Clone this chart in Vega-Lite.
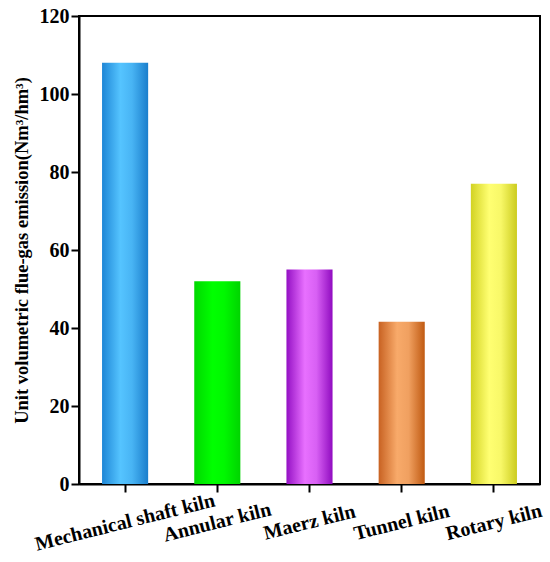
{
  "$schema": "https://vega.github.io/schema/vega-lite/v6.json",
  "width": 461,
  "height": 468,
  "autosize": {"type": "none"},
  "padding": {"left": 79, "top": 16, "right": 10, "bottom": 78},
  "background": "white",
  "config": {
    "view": {"stroke": "black", "strokeWidth": 2},
    "font": "Liberation Serif",
    "axis": {
      "domainColor": "black",
      "domainWidth": 2,
      "tickColor": "black",
      "tickWidth": 2,
      "tickSize": 8,
      "grid": false,
      "labelFont": "Liberation Serif",
      "labelFontWeight": "bold",
      "labelColor": "black",
      "titleFont": "Liberation Serif",
      "titleFontWeight": "bold",
      "titleColor": "black"
    }
  },
  "data": {
    "values": [
      {"kiln": "Mechanical shaft kiln", "emission": 108},
      {"kiln": "Annular kiln", "emission": 52},
      {"kiln": "Maerz kiln", "emission": 55},
      {"kiln": "Tunnel kiln", "emission": 41.6},
      {"kiln": "Rotary kiln", "emission": 77}
    ]
  },
  "encoding": {
    "x": {
      "field": "kiln",
      "type": "nominal",
      "title": null,
      "scale": {
        "domain": ["Mechanical shaft kiln", "Annular kiln", "Maerz kiln", "Tunnel kiln", "Rotary kiln"],
        "paddingInner": 0.5,
        "paddingOuter": 0.25
      },
      "axis": {
        "labelAngle": -14,
        "labelAlign": "center",
        "labelBaseline": "middle",
        "labelPadding": 30,
        "labelFontSize": 20,
        "labelLimit": 300
      }
    },
    "y": {
      "field": "emission",
      "type": "quantitative",
      "title": "Unit volumetric flue-gas emission(Nm³/hm³)",
      "scale": {"domain": [0, 120], "nice": false},
      "axis": {
        "values": [0, 20, 40, 60, 80, 100, 120],
        "labelFontSize": 20,
        "labelPadding": 2,
        "titleFontSize": 18.5,
        "titlePadding": 8
      }
    }
  },
  "layer": [
    {
      "transform": [{"filter": "datum.kiln === 'Mechanical shaft kiln'"}],
      "mark": {"type": "bar", "color": {"gradient": "linear", "x1": 0, "x2": 1, "y1": 0, "y2": 0, "stops": [
        {"offset": 0, "color": "#1e86d6"}, {"offset": 0.4, "color": "#55c4ff"}, {"offset": 0.65, "color": "#48b4f4"}, {"offset": 1, "color": "#1a7ecc"}]}}
    },
    {
      "transform": [{"filter": "datum.kiln === 'Annular kiln'"}],
      "mark": {"type": "bar", "color": {"gradient": "linear", "x1": 0, "x2": 1, "y1": 0, "y2": 0, "stops": [
        {"offset": 0, "color": "#00d800"}, {"offset": 0.4, "color": "#00ff00"}, {"offset": 0.65, "color": "#00f800"}, {"offset": 1, "color": "#00d400"}]}}
    },
    {
      "transform": [{"filter": "datum.kiln === 'Maerz kiln'"}],
      "mark": {"type": "bar", "color": {"gradient": "linear", "x1": 0, "x2": 1, "y1": 0, "y2": 0, "stops": [
        {"offset": 0, "color": "#9410c4"}, {"offset": 0.4, "color": "#e870ff"}, {"offset": 0.65, "color": "#d860f4"}, {"offset": 1, "color": "#900cc0"}]}}
    },
    {
      "transform": [{"filter": "datum.kiln === 'Tunnel kiln'"}],
      "mark": {"type": "bar", "color": {"gradient": "linear", "x1": 0, "x2": 1, "y1": 0, "y2": 0, "stops": [
        {"offset": 0, "color": "#c86222"}, {"offset": 0.4, "color": "#f8aa6a"}, {"offset": 0.65, "color": "#f0a060"}, {"offset": 1, "color": "#c05a12"}]}}
    },
    {
      "transform": [{"filter": "datum.kiln === 'Rotary kiln'"}],
      "mark": {"type": "bar", "color": {"gradient": "linear", "x1": 0, "x2": 1, "y1": 0, "y2": 0, "stops": [
        {"offset": 0, "color": "#d2d222"}, {"offset": 0.4, "color": "#ffff72"}, {"offset": 0.65, "color": "#f8f868"}, {"offset": 1, "color": "#cccc1e"}]}}
    }
  ]
}
